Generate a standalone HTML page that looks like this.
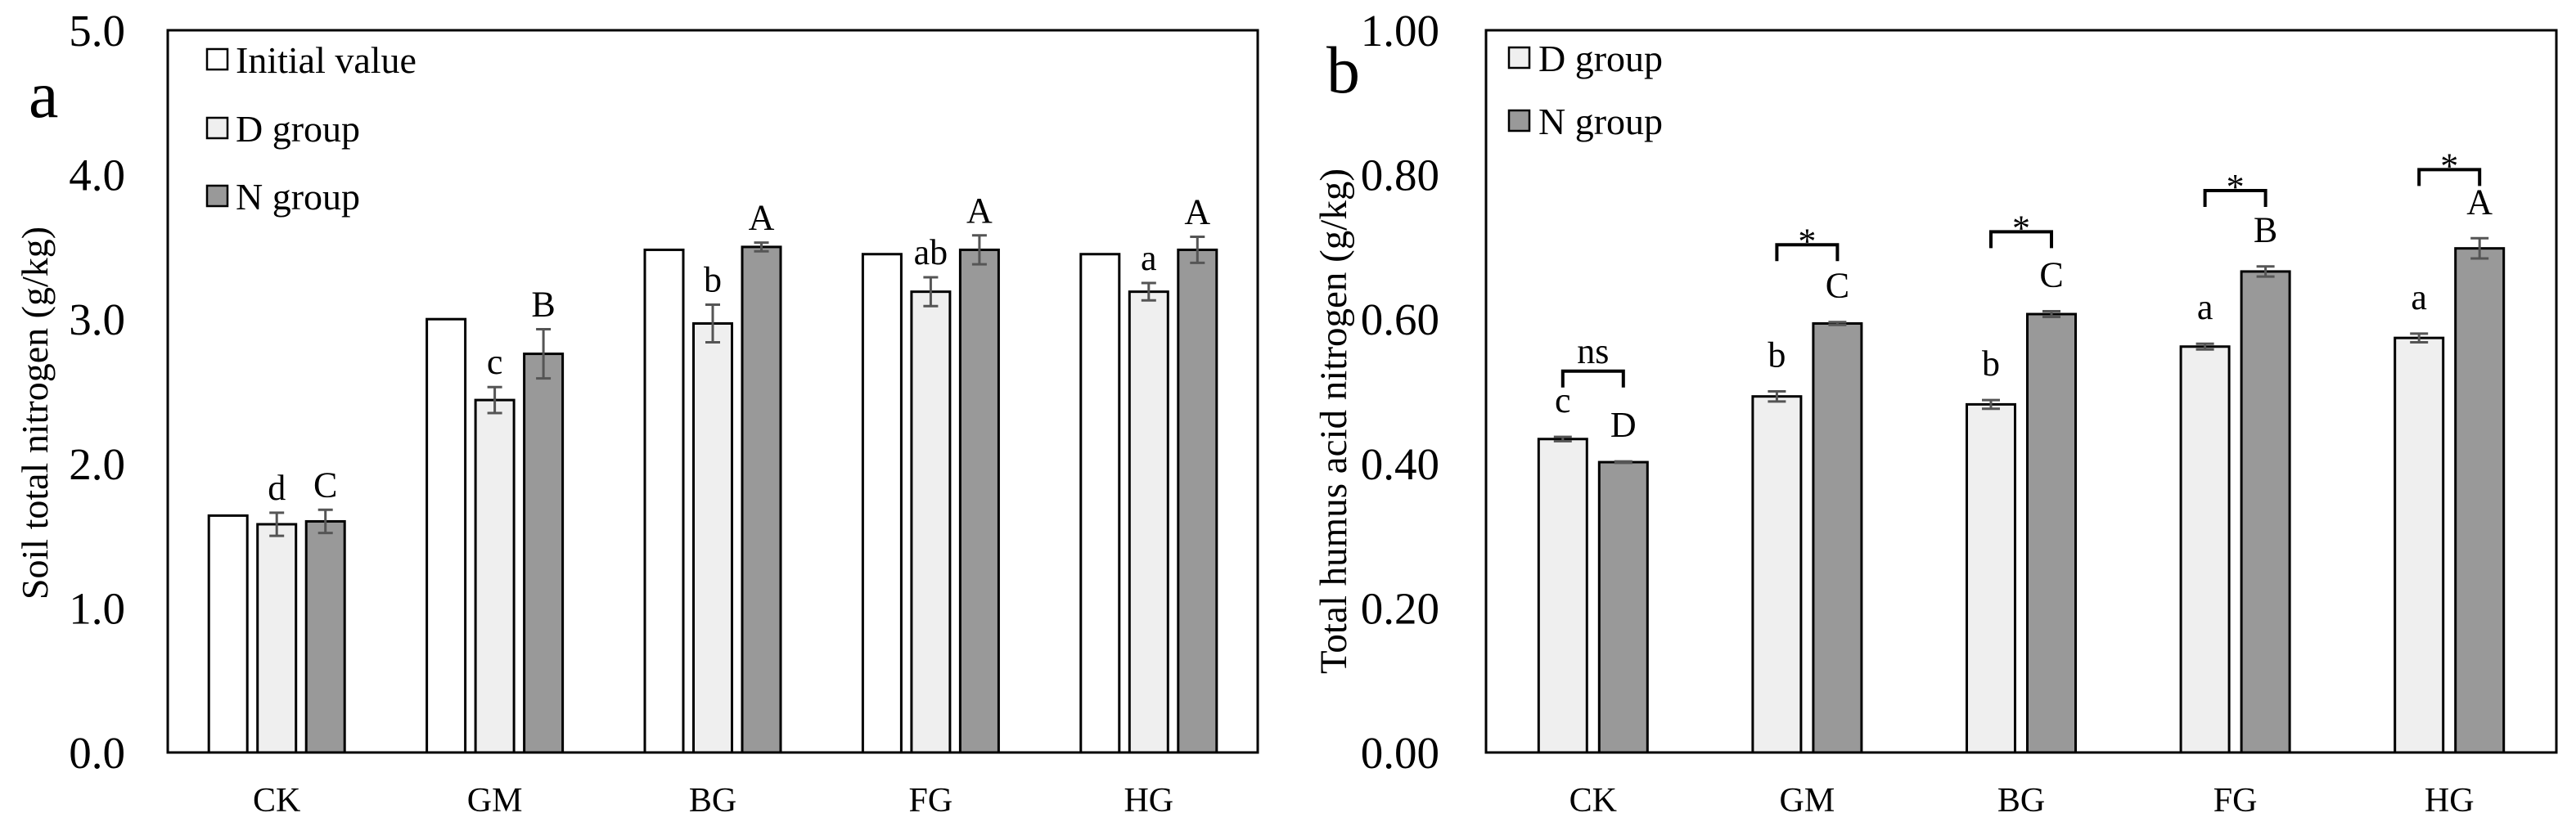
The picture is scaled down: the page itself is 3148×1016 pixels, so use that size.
<!DOCTYPE html>
<html><head><meta charset="utf-8"><style>
html,body{margin:0;padding:0;background:#fff}
svg{display:block;font-family:"Liberation Serif",serif}
</style></head><body>
<svg id="chart" width="3148" height="1016" viewBox="0 0 3148 1016" xmlns="http://www.w3.org/2000/svg">
<g id="pa"></g>
<g id="pb"></g>
</svg>
<script>
const categories = ["CK","GM","BG","FG","HG"];
// Panel a
const aInitial = [1.64, 3.00, 3.48, 3.45, 3.45];
const aD = [1.58, 2.44, 2.97, 3.19, 3.19];
const aDErr = [0.08, 0.09, 0.13, 0.10, 0.06];
const aN = [1.60, 2.76, 3.50, 3.48, 3.48];
const aNErr = [0.08, 0.17, 0.03, 0.10, 0.09];
const aDLetters = ["d","c","b","ab","a"];
const aNLetters = ["C","B","A","A","A"];
const aTicks = ["0.0","1.0","2.0","3.0","4.0","5.0"];
const aTickVals = [0,1,2,3,4,5];
// Panel b
const bD = [0.434, 0.493, 0.482, 0.562, 0.574];
const bDErr = [0.003, 0.007, 0.006, 0.004, 0.006];
const bN = [0.402, 0.594, 0.607, 0.666, 0.698];
const bNErr = [0.001, 0.002, 0.004, 0.007, 0.014];
const bDLetters = ["c","b","b","a","a"];
const bNLetters = ["D","C","C","B","A"];
const bSig = ["ns","*","*","*","*"];
const bSigLevel = [0.528, 0.703, 0.721, 0.778, 0.807];
const bTicks = ["0.00","0.20","0.40","0.60","0.80","1.00"];
const bTickVals = [0,0.2,0.4,0.6,0.8,1.0];

const NS="http://www.w3.org/2000/svg";
function mk(parent, tag, attrs, text){
  const e=document.createElementNS(NS,tag);
  for(const k in attrs) e.setAttribute(k,attrs[k]);
  if(text!==undefined) e.textContent=text;
  parent.appendChild(e); return e;
}
const TOP=37, BOT=920;

// ---------- Panel a ----------
(function(){
  const g=document.getElementById('pa');
  const L=205, R=1537, max=5;
  const y=v=>BOT-(v/max)*(BOT-TOP);
  const band=(R-L)/categories.length;
  const bw=47, stride=59.5;
  for(let i=0;i<aTickVals.length;i++){
    const t=mk(g,'text',{x:153,y:y(aTickVals[i])+19,'text-anchor':'end','font-size':55},aTicks[i]);
    
    
  }
  const yt=mk(g,'text',{x:0,y:0,'text-anchor':'middle','font-size':46,transform:'translate(58,505) rotate(-90)'},'Soil total nitrogen (g/kg)');
  
  
  const pl=mk(g,'text',{x:35,y:143,'font-size':82},'a');
  
  
  const series=[{v:aInitial,fill:'#ffffff'},{v:aD,e:aDErr,fill:'#efefef',l:aDLetters},{v:aN,e:aNErr,fill:'#999999',l:aNLetters}];
  categories.forEach((c,i)=>{
    const cx=L+band*(i+0.5);
    series.forEach((s,j)=>{
      const bx=cx+(j-1)*stride;
      const r=mk(g,'rect',{x:bx-bw/2,y:y(s.v[i]),width:bw,height:BOT-y(s.v[i]),fill:s.fill,stroke:'#000','stroke-width':3});
      
      
      if(s.e){
        const t=y(s.v[i]+s.e[i]), b=y(s.v[i]-s.e[i]);
        const eb=mk(g,'path',{d:`M${bx} ${t}V${b}M${bx-9} ${t}H${bx+9}M${bx-9} ${b}H${bx+9}`,stroke:'#555','stroke-width':3,fill:'none'});
        
        
        const lt=mk(g,'text',{x:bx,y:t-16,'text-anchor':'middle','font-size':44},s.l[i]);
        
        
      }
    });
    const xl=mk(g,'text',{x:cx,y:992,'text-anchor':'middle','font-size':42},c);
    
    
  });
  const box=mk(g,'rect',{x:L,y:TOP,width:R-L,height:BOT-TOP,fill:'none',stroke:'#000','stroke-width':3});
  
  
  const leg=[['Initial value','#ffffff',73],['D group','#efefef',157],['N group','#999999',240]];
  leg.forEach(l=>{
    const r=mk(g,'rect',{x:253,y:l[2]-13,width:25,height:25,fill:l[1],stroke:'#000','stroke-width':2.5});
    
    
    const t=mk(g,'text',{x:288,y:l[2]+16,'font-size':46},l[0]);
    
    
  });
})();

// ---------- Panel b ----------
(function(){
  const g=document.getElementById('pb');
  const L=1816, R=3124, max=1;
  const y=v=>BOT-(v/max)*(BOT-TOP);
  const band=(R-L)/categories.length;
  const bw=59, stride=74;
  for(let i=0;i<bTickVals.length;i++){
    const t=mk(g,'text',{x:1759,y:y(bTickVals[i])+19,'text-anchor':'end','font-size':55},bTicks[i]);
    
    
  }
  const yt=mk(g,'text',{x:0,y:0,'text-anchor':'middle','font-size':47,transform:'translate(1645,515) rotate(-90)'},'Total humus acid nitrogen (g/kg)');
  
  
  const pl=mk(g,'text',{x:1621,y:113,'font-size':82},'b');
  
  
  const series=[{v:bD,e:bDErr,fill:'#efefef',l:bDLetters},{v:bN,e:bNErr,fill:'#999999',l:bNLetters}];
  categories.forEach((c,i)=>{
    const cx=L+band*(i+0.5);
    const xs=[];
    series.forEach((s,j)=>{
      const bx=cx+(j-0.5)*stride; xs.push(bx);
      const r=mk(g,'rect',{x:bx-bw/2,y:y(s.v[i]),width:bw,height:BOT-y(s.v[i]),fill:s.fill,stroke:'#000','stroke-width':3});
      
      
      const t=y(s.v[i]+s.e[i]), b=y(s.v[i]-s.e[i]);
      const eb=mk(g,'path',{d:`M${bx} ${t}V${b}M${bx-11} ${t}H${bx+11}M${bx-11} ${b}H${bx+11}`,stroke:'#555','stroke-width':3,fill:'none'});
      
      
      const lt=mk(g,'text',{x:bx,y:t-30,'text-anchor':'middle','font-size':44},s.l[i]);
      
      
    });
    const by=y(bSigLevel[i]);
    const br=mk(g,'path',{d:`M${xs[0]} ${by+20}V${by}H${xs[1]}V${by+20}`,stroke:'#000','stroke-width':4,fill:'none'});
    
    
    const st=mk(g,'text',{x:(xs[0]+xs[1])/2,y:by+(bSig[i]==='*'?10:-10),'text-anchor':'middle','font-size':44},bSig[i]);
    
    
    const xl=mk(g,'text',{x:cx,y:992,'text-anchor':'middle','font-size':42},c);
    
    
  });
  const box=mk(g,'rect',{x:L,y:TOP,width:R-L,height:BOT-TOP,fill:'none',stroke:'#000','stroke-width':3});
  
  
  const leg=[['D group','#efefef',71],['N group','#999999',148]];
  leg.forEach(l=>{
    const r=mk(g,'rect',{x:1844,y:l[2]-13,width:25,height:25,fill:l[1],stroke:'#000','stroke-width':2.5});
    
    
    const t=mk(g,'text',{x:1880,y:l[2]+16,'font-size':46},l[0]);
    
    
  });
})();
</script>
</body></html>
